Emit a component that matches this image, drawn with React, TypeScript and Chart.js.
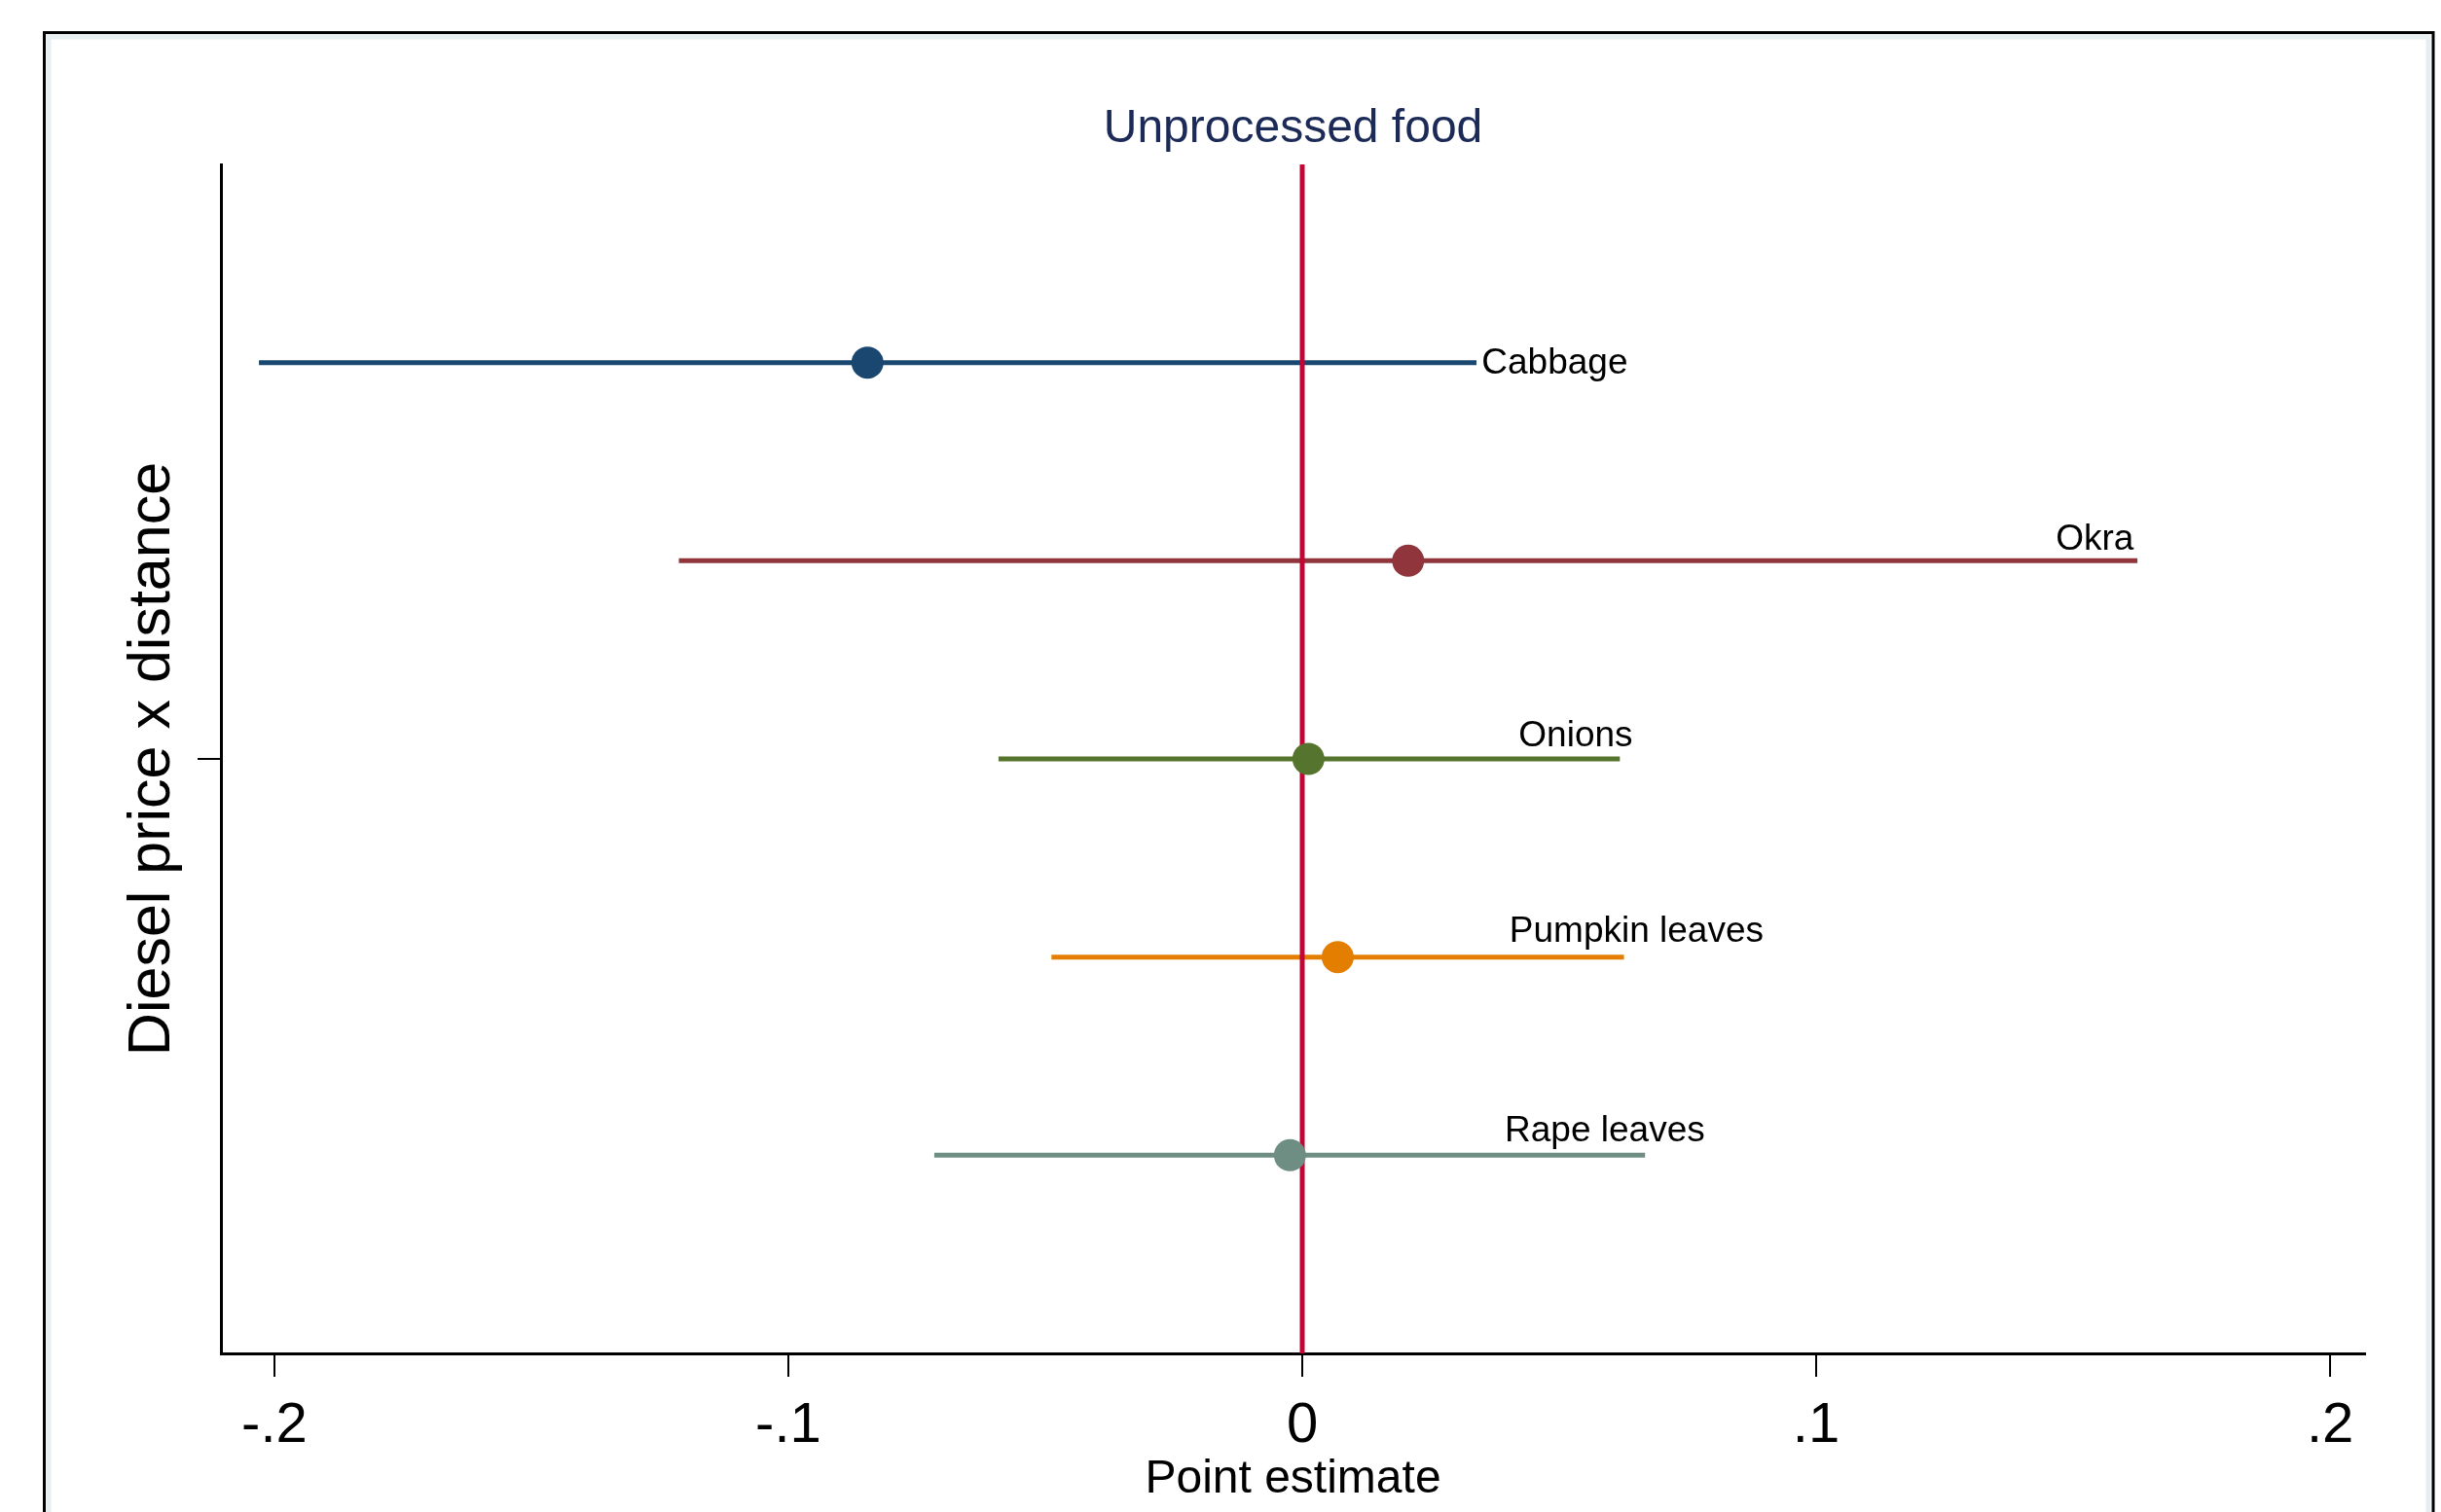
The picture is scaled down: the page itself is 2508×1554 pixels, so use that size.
import React, { useEffect, useRef } from 'react';
import { Chart, registerables } from 'chart.js';

Chart.register(...registerables);

// ---------- data ----------
const chartTitle = 'Unprocessed food';
const xAxisTitle = 'Point estimate';
const yAxisTitle = 'Diesel price x distance';

const categories = ['Cabbage', 'Okra', 'Onions', 'Pumpkin leaves', 'Rape leaves'];
const rowPositions = [5, 4, 3, 2, 1];
const pointEstimates = [-0.0846, 0.0206, 0.0012, 0.0069, -0.0024];
const ciLower = [-0.203, -0.1213, -0.0591, -0.0488, -0.0716];
const ciUpper = [0.0339, 0.1625, 0.0618, 0.0626, 0.0667];
const seriesColors = ['#1a476f', '#90353b', '#55752f', '#e37e00', '#6e8e84'];

const xTickValues = [-0.2, -0.1, 0, 0.1, 0.2];
const xTickLabels = ['-.2', '-.1', '0', '.1', '.2'];
const yTickValues = [3];
const referenceLineX = 0;

// label placement (data-unit x anchor, alignment, baseline offset in px)
const labelPlacement = [
  { x: 0.0349, align: 'left', baseline: 'middle', dy: 1 },
  { x: 0.1618, align: 'right', baseline: 'alphabetic', dy: -11 },
  { x: 0.0421, align: 'left', baseline: 'alphabetic', dy: -13 },
  { x: 0.0403, align: 'left', baseline: 'alphabetic', dy: -16 },
  { x: 0.0394, align: 'left', baseline: 'alphabetic', dy: -14 },
];

const FONT = '"Liberation Sans", Arial, Helvetica, sans-serif';
Chart.defaults.font.family = FONT;

const decorPlugin = {
  id: 'decor',
  beforeDraw(chart: any) {
    const ctx = chart.ctx;
    ctx.save();
    ctx.fillStyle = '#ffffff';
    ctx.fillRect(0, 0, chart.width, chart.height);
    ctx.strokeStyle = '#e6eef2';
    ctx.lineWidth = 5;
    ctx.strokeRect(50, 38, 2495 - 50, 1700);
    ctx.strokeStyle = '#000000';
    ctx.lineWidth = 3;
    ctx.strokeRect(45.5, 33.5, 2500 - 45.5, 1700);
    ctx.restore();
  },
  afterDatasetsDraw(chart: any) {
    const ctx = chart.ctx;
    const xs = chart.scales.x;
    const ys = chart.scales.y;
    ctx.save();
    ctx.fillStyle = '#000000';
    ctx.font = `37px ${FONT}`;
    categories.forEach((name, i) => {
      const p = labelPlacement[i];
      ctx.textAlign = p.align;
      ctx.textBaseline = p.baseline;
      ctx.fillText(name, xs.getPixelForValue(p.x), ys.getPixelForValue(rowPositions[i]) + p.dy);
    });
    const area = chart.chartArea;
    ctx.fillStyle = '#1b2a56';
    ctx.font = `48px ${FONT}`;
    ctx.textAlign = 'center';
    ctx.textBaseline = 'alphabetic';
    ctx.fillText(chartTitle, (area.left + area.right) / 2, 146);
    ctx.restore();
  },
};

export default function App() {
  const ref = useRef<HTMLCanvasElement>(null);

  useEffect(() => {
    document.body.style.margin = '0';
    document.body.style.overflow = 'hidden';

    const ciDatasets = categories.map((c, i) => ({
      label: c + ' CI',
      data: [
        { x: ciLower[i], y: rowPositions[i] },
        { x: ciUpper[i], y: rowPositions[i] },
      ],
      showLine: true,
      borderColor: seriesColors[i],
      backgroundColor: seriesColors[i],
      borderWidth: 5,
      pointRadius: 0,
      order: 2,
    }));
    const zeroLine = {
      label: 'zero',
      data: [
        { x: referenceLineX, y: 0 },
        { x: referenceLineX, y: 6 },
      ],
      showLine: true,
      borderColor: '#c10534',
      borderWidth: 5,
      pointRadius: 0,
      order: 1,
    };
    const markers = categories.map((c, i) => ({
      label: c,
      data: [{ x: pointEstimates[i], y: rowPositions[i] }],
      showLine: false,
      pointRadius: 16.5,
      pointBorderWidth: 0,
      pointBackgroundColor: seriesColors[i],
      pointBorderColor: seriesColors[i],
      order: 0,
    }));

    const chart = new Chart(ref.current!, {
      type: 'scatter',
      data: { datasets: [...ciDatasets, zeroLine, ...markers] as any },
      options: {
        responsive: false,
        animation: false,
        devicePixelRatio: 1,
        layout: { padding: { left: 0, top: 169, right: 78, bottom: 0 } },
        plugins: {
          legend: { display: false },
          tooltip: { enabled: false },
          title: { display: false },
        },
        scales: {
          x: {
            type: 'linear',
            min: -0.2104,
            max: 0.2068,
            afterBuildTicks: (s: any) => {
              s.ticks = xTickValues.map((v) => ({ value: v }));
            },
            afterFit: (s: any) => {
              s.height = 163;
            },
            ticks: {
              callback: (_v: any, idx: number) => xTickLabels[idx],
              font: { size: 58, family: FONT },
              color: '#000000',
              padding: 16,
              maxRotation: 0,
              autoSkip: false,
            },
            grid: {
              drawOnChartArea: false,
              drawTicks: true,
              tickLength: 24,
              color: '#000000',
              lineWidth: 2,
            },
            border: { display: true, color: '#000000', width: 3 },
            title: {
              display: true,
              text: xAxisTitle,
              font: { size: 48, family: FONT },
              color: '#000000',
              padding: { top: 0, bottom: 4 },
            },
          },
          y: {
            type: 'linear',
            min: 0,
            max: 6,
            afterBuildTicks: (s: any) => {
              s.ticks = yTickValues.map((v) => ({ value: v }));
            },
            afterFit: (s: any) => {
              s.width = 227;
            },
            ticks: {
              callback: () => '',
              padding: 0,
            },
            grid: {
              drawOnChartArea: false,
              drawTicks: true,
              tickLength: 24,
              color: '#000000',
              lineWidth: 2,
            },
            border: { display: true, color: '#000000', width: 3 },
            title: {
              display: true,
              text: yAxisTitle,
              font: { size: 61, family: FONT },
              color: '#000000',
              padding: { top: 121, bottom: 0 },
            },
          },
        },
      } as any,
      plugins: [decorPlugin],
    });
    return () => chart.destroy();
  }, []);

  return (
    <div style={{ width: 2508, height: 1554, overflow: 'hidden' }}>
      <canvas ref={ref} width={2508} height={1554} style={{ display: 'block', width: 2508, height: 1554 }} />
    </div>
  );
}
